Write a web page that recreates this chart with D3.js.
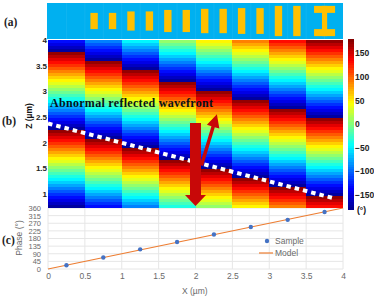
<!DOCTYPE html>
<html>
<head>
<meta charset="utf-8">
<script src="https://cdn.jsdelivr.net/npm/d3@7"></script>
<style>
  html, body { margin: 0; padding: 0; background: #fff; }
  svg { display: block; }
  text { font-family: "Liberation Sans", Arial, sans-serif; }
  .serif { font-family: "Liberation Serif", "Times New Roman", serif; font-weight: bold; }
</style>
</head>
<body>
<svg id="chart" width="374" height="296"></svg>
<script>
// (a) unit cell bar lengths in um, cells 2..13 of the 16 cell strip
const barCells = [2, 3, 4, 5, 6, 7, 8, 9, 10, 11, 12, 13];
const barLengths = [0.22, 0.22, 0.26, 0.26, 0.30, 0.30, 0.33, 0.33, 0.35, 0.35, 0.41, 0.41];

// (b) one period of phase read going down a column, deg
const phaseProfile = [173, 159, 145, 131, 118, 104, 90, 76, 62, 48, 35, 21, 7,
  -7, -21, -35, -48, -62, -76, -90, -104, -118, -131, -145, -159, -173];
// row where each of the 8 columns jumps from blue back to red
const columnJumpRow = [4, 7, 10, 14, 17, 20, 23, 26];
const colorbarTicks = [150, 100, 50, 0, -50, -100, -150];
const zTicks = [1, 1.5, 2, 2.5, 3, 3.5, 4];

// wavefront and arrows in um
const wavefrontX = [0, 3.85];
const wavefrontZ = [2.37, 0.92];
const downArrowX = [2.0, 2.0];
const downArrowZ = [2.38, 0.76];
const upArrowX = [2.08, 2.29];
const upArrowZ = [1.55, 2.55];

// (c) phase gradient
const sampleX = [0.25, 0.75, 1.25, 1.75, 2.25, 2.75, 3.25, 3.75];
const samplePhase = [22, 68, 116, 159, 204, 248, 290, 336];
const modelX = [0, 4];
const modelPhase = [0, 360];
const phaseTicks = [0, 45, 90, 135, 180, 225, 270, 315, 360];
const xTicks = [0, 0.5, 1, 1.5, 2, 2.5, 3, 3.5, 4];

const svg = d3.select("#chart");

const x = d3.scaleLinear().domain([0, 4]).range([48, 343]);
const z = d3.scaleLinear().domain([0.72, 4]).range([208, 40]);
const yPhase = d3.scaleLinear().domain([0, 360]).range([269, 208]);
const yBar = d3.scaleLinear().domain([-180, 180]).range([209, 39]);

// jet
const jet = d3.scaleLinear()
  .domain([-180, -135, -45, 45, 135, 180])
  .range(["#00008f", "#0000ff", "#00ffff", "#ffff00", "#ff0000", "#800000"]);

// ---- (c) phase plot, sits under the heatmap
const gridC = svg.append("g").attr("stroke", "#e6e6e6").attr("stroke-width", 1);
gridC.selectAll(".h").data(phaseTicks).enter().append("line")
  .attr("x1", x(0)).attr("x2", x(4))
  .attr("y1", d => yPhase(d)).attr("y2", d => yPhase(d));
gridC.selectAll(".v").data(xTicks).enter().append("line")
  .attr("x1", d => x(d)).attr("x2", d => x(d))
  .attr("y1", yPhase(0)).attr("y2", yPhase(360));

const axisPhase = svg.append("g").attr("transform", "translate(43,0)")
  .call(d3.axisLeft(yPhase).tickValues(phaseTicks).tickSize(0).tickPadding(2));
axisPhase.select(".domain").remove();
axisPhase.selectAll("text").attr("fill", "#6a6a6a").style("font-size", "7.5px");
const axisX = svg.append("g").attr("transform", "translate(0,272)")
  .call(d3.axisBottom(x).tickValues(xTicks).tickFormat(d3.format("~g")).tickSize(0).tickPadding(1));
axisX.select(".domain").remove();
axisX.selectAll("text").attr("fill", "#6a6a6a").style("font-size", "8.5px");

svg.append("path")
  .datum(d3.zip(modelX, modelPhase))
  .attr("fill", "none").attr("stroke", "#ed7d31").attr("stroke-width", 1.2)
  .attr("d", d3.line().x(d => x(d[0])).y(d => yPhase(d[1])));

svg.selectAll(".sample").data(d3.zip(sampleX, samplePhase)).enter().append("circle")
  .attr("cx", d => x(d[0])).attr("cy", d => yPhase(d[1])).attr("r", 2.2)
  .attr("fill", "#4472c4");

svg.append("circle").attr("cx", 267).attr("cy", 241).attr("r", 2.2).attr("fill", "#4472c4");
svg.append("line").attr("x1", 259).attr("x2", 273).attr("y1", 253).attr("y2", 253)
  .attr("stroke", "#ed7d31").attr("stroke-width", 1.2);
svg.append("text").attr("x", 275).attr("y", 244).attr("fill", "#6a6a6a").style("font-size", "8.5px").text("Sample");
svg.append("text").attr("x", 275).attr("y", 256).attr("fill", "#6a6a6a").style("font-size", "8.5px").text("Model");
svg.append("text").attr("x", 182).attr("y", 294).attr("fill", "#6a6a6a").style("font-size", "8.5px").text("X (µm)");
svg.append("text").attr("transform", "translate(22,238) rotate(-90)").attr("text-anchor", "middle")
  .attr("fill", "#6a6a6a").style("font-size", "8.5px").text("Phase (°)");

// ---- (a) metasurface strip
svg.append("rect").attr("x", x(0) - 1).attr("y", 3).attr("width", x(4) - x(0) + 1).attr("height", 36).attr("fill", "#00b0f0");
svg.selectAll(".cellLine").data(d3.range(1, 16)).enter().append("line")
  .attr("x1", d => x(d * 0.25)).attr("x2", d => x(d * 0.25)).attr("y1", 3).attr("y2", 39)
  .attr("stroke", "#19b8f2").attr("stroke-width", 0.6);

const umPx = x(1) - x(0);
const stripMid = 21;
svg.selectAll(".bar").data(d3.zip(barCells, barLengths)).enter().append("rect")
  .attr("x", d => x((d[0] + 0.5) * 0.25) - 0.05 * umPx)
  .attr("y", d => stripMid - d[1] / 2 * umPx)
  .attr("width", 0.1 * umPx)
  .attr("height", d => d[1] * umPx)
  .attr("fill", "#ffc000");
// I shaped last cell
const iCenter = x(3.75), iLen = 0.41 * umPx, iW = 0.285 * umPx, iT = 0.095 * umPx, iStem = 0.07 * umPx;
svg.append("rect").attr("x", iCenter - iW / 2).attr("y", stripMid - iLen / 2).attr("width", iW).attr("height", iT).attr("fill", "#ffc000");
svg.append("rect").attr("x", iCenter - iW / 2).attr("y", stripMid + iLen / 2 - iT).attr("width", iW).attr("height", iT).attr("fill", "#ffc000");
svg.append("rect").attr("x", iCenter - iStem / 2).attr("y", stripMid - iLen / 2).attr("width", iStem).attr("height", iLen).attr("fill", "#ffc000");

// ---- (b) heatmap
const nRows = 56;
const rowH = (z.domain()[1] - z.domain()[0]) / nRows;
const cells = [];
columnJumpRow.forEach((jump, c) => {
  d3.range(nRows).forEach(r => {
    const k = (r - jump + phaseProfile.length * 2) % phaseProfile.length;
    cells.push({ c: c, r: r, v: phaseProfile[k] });
  });
});
svg.append("g").attr("shape-rendering", "crispEdges")
  .selectAll("rect").data(cells).enter().append("rect")
  .attr("x", d => x(d.c * 0.5))
  .attr("y", d => z(4 - d.r * rowH))
  .attr("width", x(0.5) - x(0))
  .attr("height", z(4 - rowH) - z(4) + 0.3)
  .attr("fill", d => jet(d.v));

const axisZ = svg.append("g").attr("transform", "translate(47,0)")
  .call(d3.axisLeft(z).tickValues(zTicks).tickFormat(d3.format("~g")).tickSize(0).tickPadding(0));
axisZ.select(".domain").remove();
axisZ.selectAll("text").attr("fill", "#222").style("font-size", "8px").style("font-weight", "bold");
svg.append("text").attr("transform", "translate(32,116) rotate(-90)").attr("text-anchor", "middle")
  .attr("fill", "#111").style("font-size", "8.5px").style("font-weight", "bold").text("Z (µm)");

// colorbar
const barSteps = d3.range(-180, 180, 5);
svg.append("g").attr("shape-rendering", "crispEdges")
  .selectAll("rect").data(barSteps).enter().append("rect")
  .attr("x", 348).attr("width", 6)
  .attr("y", d => yBar(d + 5)).attr("height", d => yBar(d) - yBar(d + 5) + 0.5)
  .attr("fill", d => jet(d + 2.5));
const axisBar = svg.append("g").attr("transform", "translate(354,0)")
  .call(d3.axisRight(yBar).tickValues(colorbarTicks).tickSize(0).tickPadding(1));
axisBar.select(".domain").remove();
axisBar.selectAll("text").attr("fill", "#222").style("font-size", "8.5px").style("font-weight", "bold");
svg.append("text").attr("x", 357).attr("y", 213).attr("fill", "#111").style("font-size", "8.5px").style("font-weight", "bold").text("(°)");

// annotations
svg.append("path")
  .datum(d3.zip(wavefrontX, wavefrontZ))
  .attr("fill", "none").attr("stroke", "#fff").attr("stroke-width", 4).attr("stroke-dasharray", "4.5,4")
  .attr("d", d3.line().x(d => x(d[0])).y(d => z(d[1])));

function arrow(xs, zs, shaft, headLen, headW) {
  const x0 = x(xs[0]), y0 = z(zs[0]), x1 = x(xs[1]), y1 = z(zs[1]);
  const a = Math.atan2(y1 - y0, x1 - x0);
  const len = Math.hypot(x1 - x0, y1 - y0);
  svg.append("g").attr("transform", `translate(${x0},${y0}) rotate(${a * 180 / Math.PI})`)
    .append("path")
    .attr("d", d3.line()([
      [0, -shaft / 2], [len - headLen, -shaft / 2], [len - headLen, -headW / 2], [len, 0],
      [len - headLen, headW / 2], [len - headLen, shaft / 2], [0, shaft / 2]
    ]) + "Z")
    .attr("fill", "#c80808");
}
arrow(upArrowX, upArrowZ, 3.5, 13, 13);
arrow(downArrowX, downArrowZ, 11, 11, 21);

svg.append("text").attr("class", "serif").attr("x", 50).attr("y", 107).attr("fill", "#06121a")
  .style("font-size", "12px").style("letter-spacing", "0.3px").text("Abnormal reflected wavefront");

svg.append("text").attr("class", "serif").attr("x", 4).attr("y", 26).style("font-size", "11.5px").attr("fill", "#222").text("(a)");
svg.append("text").attr("class", "serif").attr("x", 2).attr("y", 125).style("font-size", "11.5px").attr("fill", "#222").text("(b)");
svg.append("text").attr("class", "serif").attr("x", 2).attr("y", 244).style("font-size", "11.5px").attr("fill", "#222").text("(c)");
</script>
</body>
</html>
